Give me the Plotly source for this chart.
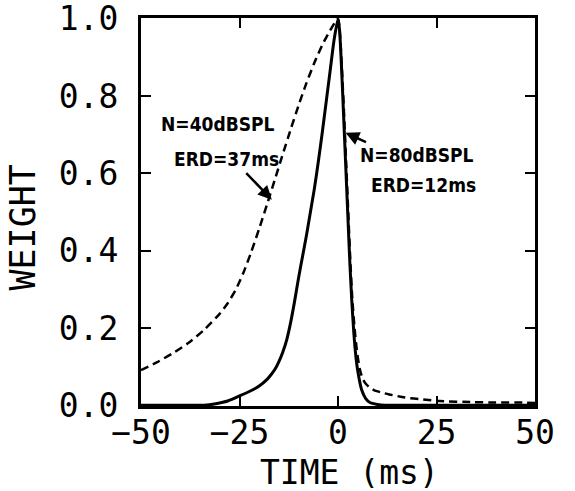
import plotly.graph_objects as go

# 80 dB SPL window (solid)
t_80 = [-50, -40, -34, -31, -28, -25, -22, -20, -18, -17, -16, -15, -14, -13, -12, -11,
        -10, -9, -8, -7, -6, -5, -4, -3, -2, -1, 0, 0.4, 1.0, 1.5, 2.0, 2.5, 3.0, 3.5,
        4.0, 4.5, 5.0, 6.0, 7.0, 8.1, 10, 12, 20, 30, 40, 50]
w_80 = [0, 0, 0, 0.004, 0.011, 0.024, 0.038, 0.05, 0.067, 0.079, 0.093, 0.113, 0.138,
        0.17, 0.215, 0.27, 0.33, 0.385, 0.44, 0.50, 0.56, 0.63, 0.705, 0.785, 0.865,
        0.945, 1.0, 0.97, 0.85, 0.73, 0.61, 0.49, 0.37, 0.27, 0.19, 0.13, 0.09, 0.04,
        0.018, 0.007, 0.002, 0, 0, 0, 0, 0]

# 40 dB SPL window (dashed)
t_40 = [-50, -46, -42, -38, -34, -30, -28, -26, -24, -22, -20, -18, -16, -14, -12, -10,
        -8, -6, -4, -2, 0, 0.5, 1.1, 1.6, 2.1, 2.6, 3.1, 3.6, 4.2, 4.8, 5.5, 6.2, 7, 8,
        9, 11, 13, 17, 21.6, 25.8, 34.3, 40, 47, 50]
w_40 = [0.091, 0.111, 0.134, 0.161, 0.195, 0.237, 0.264, 0.298, 0.343, 0.397, 0.457,
        0.52, 0.585, 0.65, 0.714, 0.776, 0.834, 0.886, 0.932, 0.97, 1.0, 0.96, 0.85,
        0.74, 0.62, 0.50, 0.38, 0.28, 0.20, 0.14, 0.095, 0.07, 0.056, 0.046, 0.04,
        0.033, 0.028, 0.02, 0.015, 0.011, 0.008, 0.007, 0.007, 0.006]

x_ticks = [-50, -25, 0, 25, 50]
y_ticks = [0.0, 0.2, 0.4, 0.6, 0.8, 1.0]

# annotation text lines (label, anchor time, anchor weight)
note_text = ["N=40dBSPL", "ERD=37ms", "N=80dBSPL", "ERD=12ms"]
note_t = [-30.5, -28.2, 20.1, 21.8]
note_w = [0.728, 0.638, 0.647, 0.57]

tick_font = dict(family="DejaVu Sans Mono", size=33, color="black")
note_font = dict(family="DejaVu Sans Condensed", size=19, color="black", weight="bold")

fig = go.Figure()
fig.add_trace(go.Scatter(x=t_40, y=w_40, mode="lines",
                         line=dict(color="black", width=2.5, dash="8px,5px", shape="spline", smoothing=0.6),
                         showlegend=False, hoverinfo="skip"))
fig.add_trace(go.Scatter(x=t_80, y=w_80, mode="lines",
                         line=dict(color="black", width=3, shape="spline", smoothing=0.6),
                         showlegend=False, hoverinfo="skip"))

fig.update_xaxes(range=[-50, 50], tickvals=x_ticks,
                 ticktext=[str(v).replace("-", "\u2212") for v in x_ticks],
                 ticks="inside", ticklen=10, tickwidth=2, tickcolor="black",
                 showline=True, linewidth=3, linecolor="black", mirror="ticks",
                 showgrid=False, zeroline=False, tickfont=tick_font, ticklabelstandoff=-5,
                 automargin=False)
fig.update_yaxes(range=[-0.002, 1.002], tickvals=y_ticks, tickformat=".1f",
                 ticks="inside", ticklen=10, tickwidth=2, tickcolor="black",
                 showline=True, linewidth=3, linecolor="black", mirror="ticks",
                 showgrid=False, zeroline=False, tickfont=tick_font, ticklabelstandoff=13,
                 ticklabeloverflow="allow", automargin=False)

annotations = []
for txt, tx, wy in zip(note_text, note_t, note_w):
    annotations.append(dict(text=txt, x=tx, y=wy, xref="x", yref="y", showarrow=False,
                            font=note_font, xanchor="center", yanchor="middle"))
# arrows
annotations.append(dict(text="", x=-16.8, y=0.532, xref="x", yref="y", showarrow=True,
                        arrowhead=2, arrowsize=1.1, arrowwidth=2.5, arrowcolor="black",
                        ax=-27, ay=-28, standoff=0))
annotations.append(dict(text="", x=1.9, y=0.705, xref="x", yref="y", showarrow=True,
                        arrowhead=2, arrowsize=1.1, arrowwidth=2.5, arrowcolor="black",
                        ax=22, ay=10, standoff=0))
annotations.append(dict(text="WEIGHT", xref="paper", yref="paper", x=0, y=0.46, xshift=-118,
                        textangle=-90, showarrow=False, xanchor="center", yanchor="middle",
                        font=dict(family="DejaVu Sans Mono", size=35, color="black")))
annotations.append(dict(text="TIME (ms)", xref="paper", yref="paper", x=0.5, y=0, xshift=11,
                        yshift=-66, showarrow=False, xanchor="center", yanchor="middle",
                        font=dict(family="DejaVu Sans Mono", size=33, color="black")))
fig.update_layout(annotations=annotations)

fig.update_layout(width=575, height=491, margin=dict(l=141, r=40, t=18, b=85),
                  plot_bgcolor="white", paper_bgcolor="white")
fig.write_html("out.html", config={"displayModeBar": False},
               post_script="document.body.style.margin='0';document.body.style.overflow='hidden';")
